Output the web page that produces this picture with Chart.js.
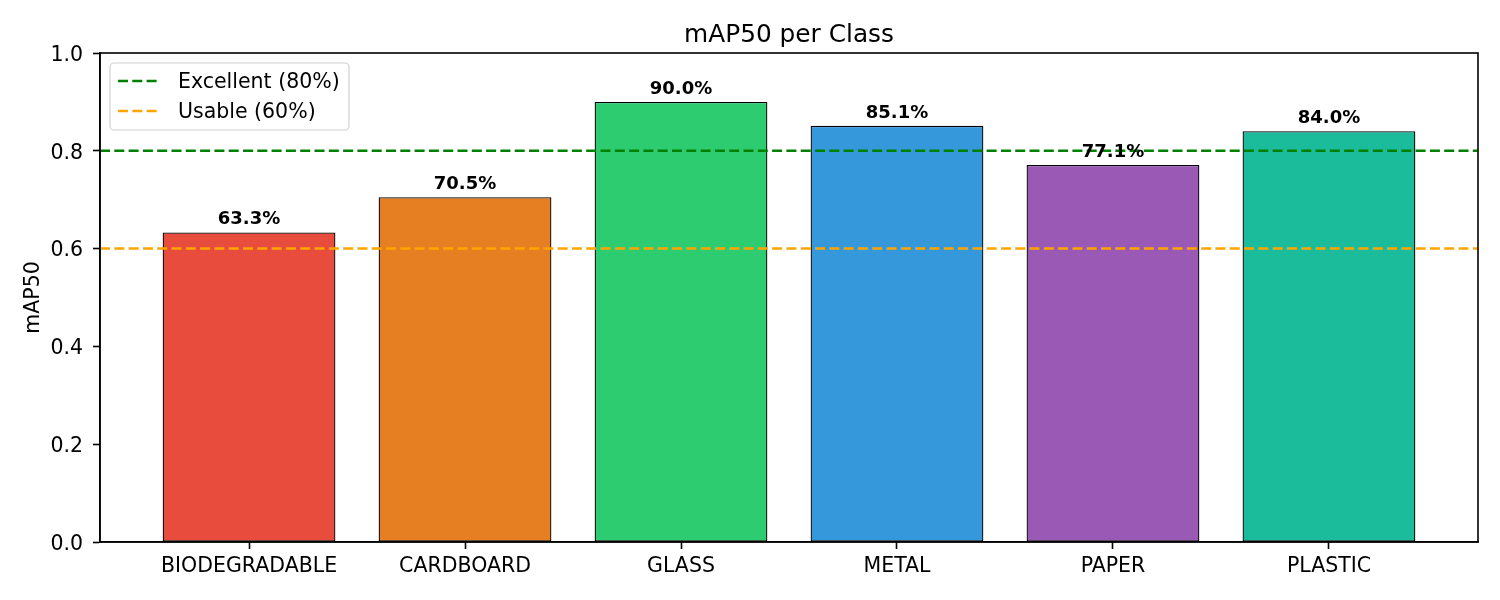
<!DOCTYPE html>
<html>
<head>
<meta charset="utf-8">
<script src="https://cdn.jsdelivr.net/npm/chart.js@4/dist/chart.umd.min.js"></script>
<style>
  body { margin: 0; background: #fff; }
  #wrap { width: 1500px; height: 600px; }
</style>
</head>
<body>
<div id="wrap"><canvas id="grafico" width="1500" height="600"></canvas></div>
<script>
const chartTitle = 'mAP50 per Class';
const classes = ['BIODEGRADABLE', 'CARDBOARD', 'GLASS', 'METAL', 'PAPER', 'PLASTIC'];
const map50 = [0.633, 0.705, 0.900, 0.851, 0.771, 0.840];
const barColors = ['#e74c3c', '#e67e22', '#2ecc71', '#3498db', '#9b59b6', '#1abc9c'];
const thresholdLabels = ['Excellent (80%)', 'Usable (60%)'];
const thresholdValues = [0.8, 0.6];
const thresholdColors = ['#008000', '#ffa500'];
const yTicks = [0, 0.2, 0.4, 0.6, 0.8, 1.0];

const X_MIN = -0.69, X_MAX = classes.length - 1 + 0.69;
const DASH = [10, 4.3];

Chart.defaults.font.family = '"DejaVu Sans", sans-serif';
Chart.defaults.color = '#000';

// titulo centrado sobre el area, etiquetas de barras, marco y leyenda interna
const extras = {
  id: 'extras',
  afterDatasetsDraw(chart) {
    const ctx = chart.ctx;
    const area = chart.chartArea;
    const meta = chart.getDatasetMeta(0);

    ctx.save();
    ctx.font = '24.8px "DejaVu Sans"';
    ctx.fillStyle = '#000';
    ctx.textAlign = 'center';
    ctx.textBaseline = 'alphabetic';
    ctx.fillText(chartTitle, (area.left + area.right) / 2, area.top - 11.5);

    ctx.font = 'bold 18px "DejaVu Sans"';
    meta.data.forEach((bar, i) => {
      ctx.fillText((map50[i] * 100).toFixed(1) + '%', bar.x, bar.y - 8);
    });

    ctx.strokeStyle = '#000';
    ctx.lineWidth = 1.6;
    ctx.strokeRect(area.left, area.top, area.right - area.left, area.bottom - area.top);

    const bx = area.left + 10, by = area.top + 10, bw = 239, bh = 67;
    ctx.beginPath();
    ctx.roundRect(bx, by, bw, bh, 4);
    ctx.fillStyle = 'rgba(255,255,255,0.8)';
    ctx.fill();
    ctx.strokeStyle = '#d0d0d0';
    ctx.lineWidth = 1.2;
    ctx.stroke();

    ctx.font = '20.5px "DejaVu Sans"';
    ctx.textAlign = 'left';
    ctx.textBaseline = 'middle';
    thresholdLabels.forEach((lbl, i) => {
      const cy = by + 18 + i * 30;
      ctx.beginPath();
      ctx.setLineDash(DASH);
      ctx.strokeStyle = thresholdColors[i];
      ctx.lineWidth = 2.5;
      ctx.moveTo(bx + 8, cy);
      ctx.lineTo(bx + 50, cy);
      ctx.stroke();
      ctx.setLineDash([]);
      ctx.fillStyle = '#000';
      ctx.fillText(lbl, bx + 68, cy + 2);
    });
    ctx.restore();
  }
};

const datasets = [{
  type: 'bar',
  label: 'mAP50',
  data: map50.map((v, i) => ({ x: i, y: v })),
  backgroundColor: barColors,
  borderColor: '#000',
  borderWidth: 1.3,
  borderSkipped: false,
  categoryPercentage: 1,
  barPercentage: 0.8,
  order: 2
}];
thresholdValues.forEach((t, i) => {
  datasets.push({
    type: 'line',
    label: thresholdLabels[i],
    data: [{ x: X_MIN, y: t }, { x: X_MAX, y: t }],
    borderColor: thresholdColors[i],
    borderWidth: 2.5,
    borderDash: DASH,
    pointRadius: 0,
    fill: false,
    order: 1
  });
});

const ctx = document.getElementById('grafico').getContext('2d');
new Chart(ctx, {
  type: 'bar',
  data: { datasets },
  options: {
    responsive: false,
    animation: false,
    layout: { padding: { left: 0, right: 22, top: 53, bottom: 0 } },
    plugins: {
      legend: { display: false },
      tooltip: { enabled: false },
      title: { display: false }
    },
    scales: {
      x: {
        type: 'linear',
        min: X_MIN,
        max: X_MAX,
        offset: false,
        afterBuildTicks: s => { s.ticks = classes.map((_, i) => ({ value: i })); },
        afterFit: s => { s.height = 58; },
        ticks: {
          autoSkip: false,
          maxRotation: 0,
          padding: 5,
          font: { size: 20.5 },
          callback: v => classes[v]
        },
        grid: { display: true, offset: false, drawOnChartArea: false, drawTicks: true, tickLength: 7, tickWidth: 1.6, tickColor: '#000' },
        border: { display: true, color: '#000', width: 1.6 }
      },
      y: {
        min: 0,
        max: 1,
        afterBuildTicks: s => { s.ticks = yTicks.map(v => ({ value: v })); },
        afterFit: s => { s.width = 100; },
        ticks: {
          padding: 10,
          labelOffset: 2.5,
          font: { size: 20.5 },
          callback: v => Number(v).toFixed(1)
        },
        title: {
          display: true,
          text: 'mAP50',
          font: { size: 20.5 },
          padding: { top: 21.5, bottom: 0 }
        },
        grid: { display: true, drawOnChartArea: false, drawTicks: true, tickLength: 7, tickWidth: 1.6, tickColor: '#000' },
        border: { display: true, color: '#000', width: 1.6 }
      }
    }
  },
  plugins: [extras]
});
</script>
</body>
</html>
